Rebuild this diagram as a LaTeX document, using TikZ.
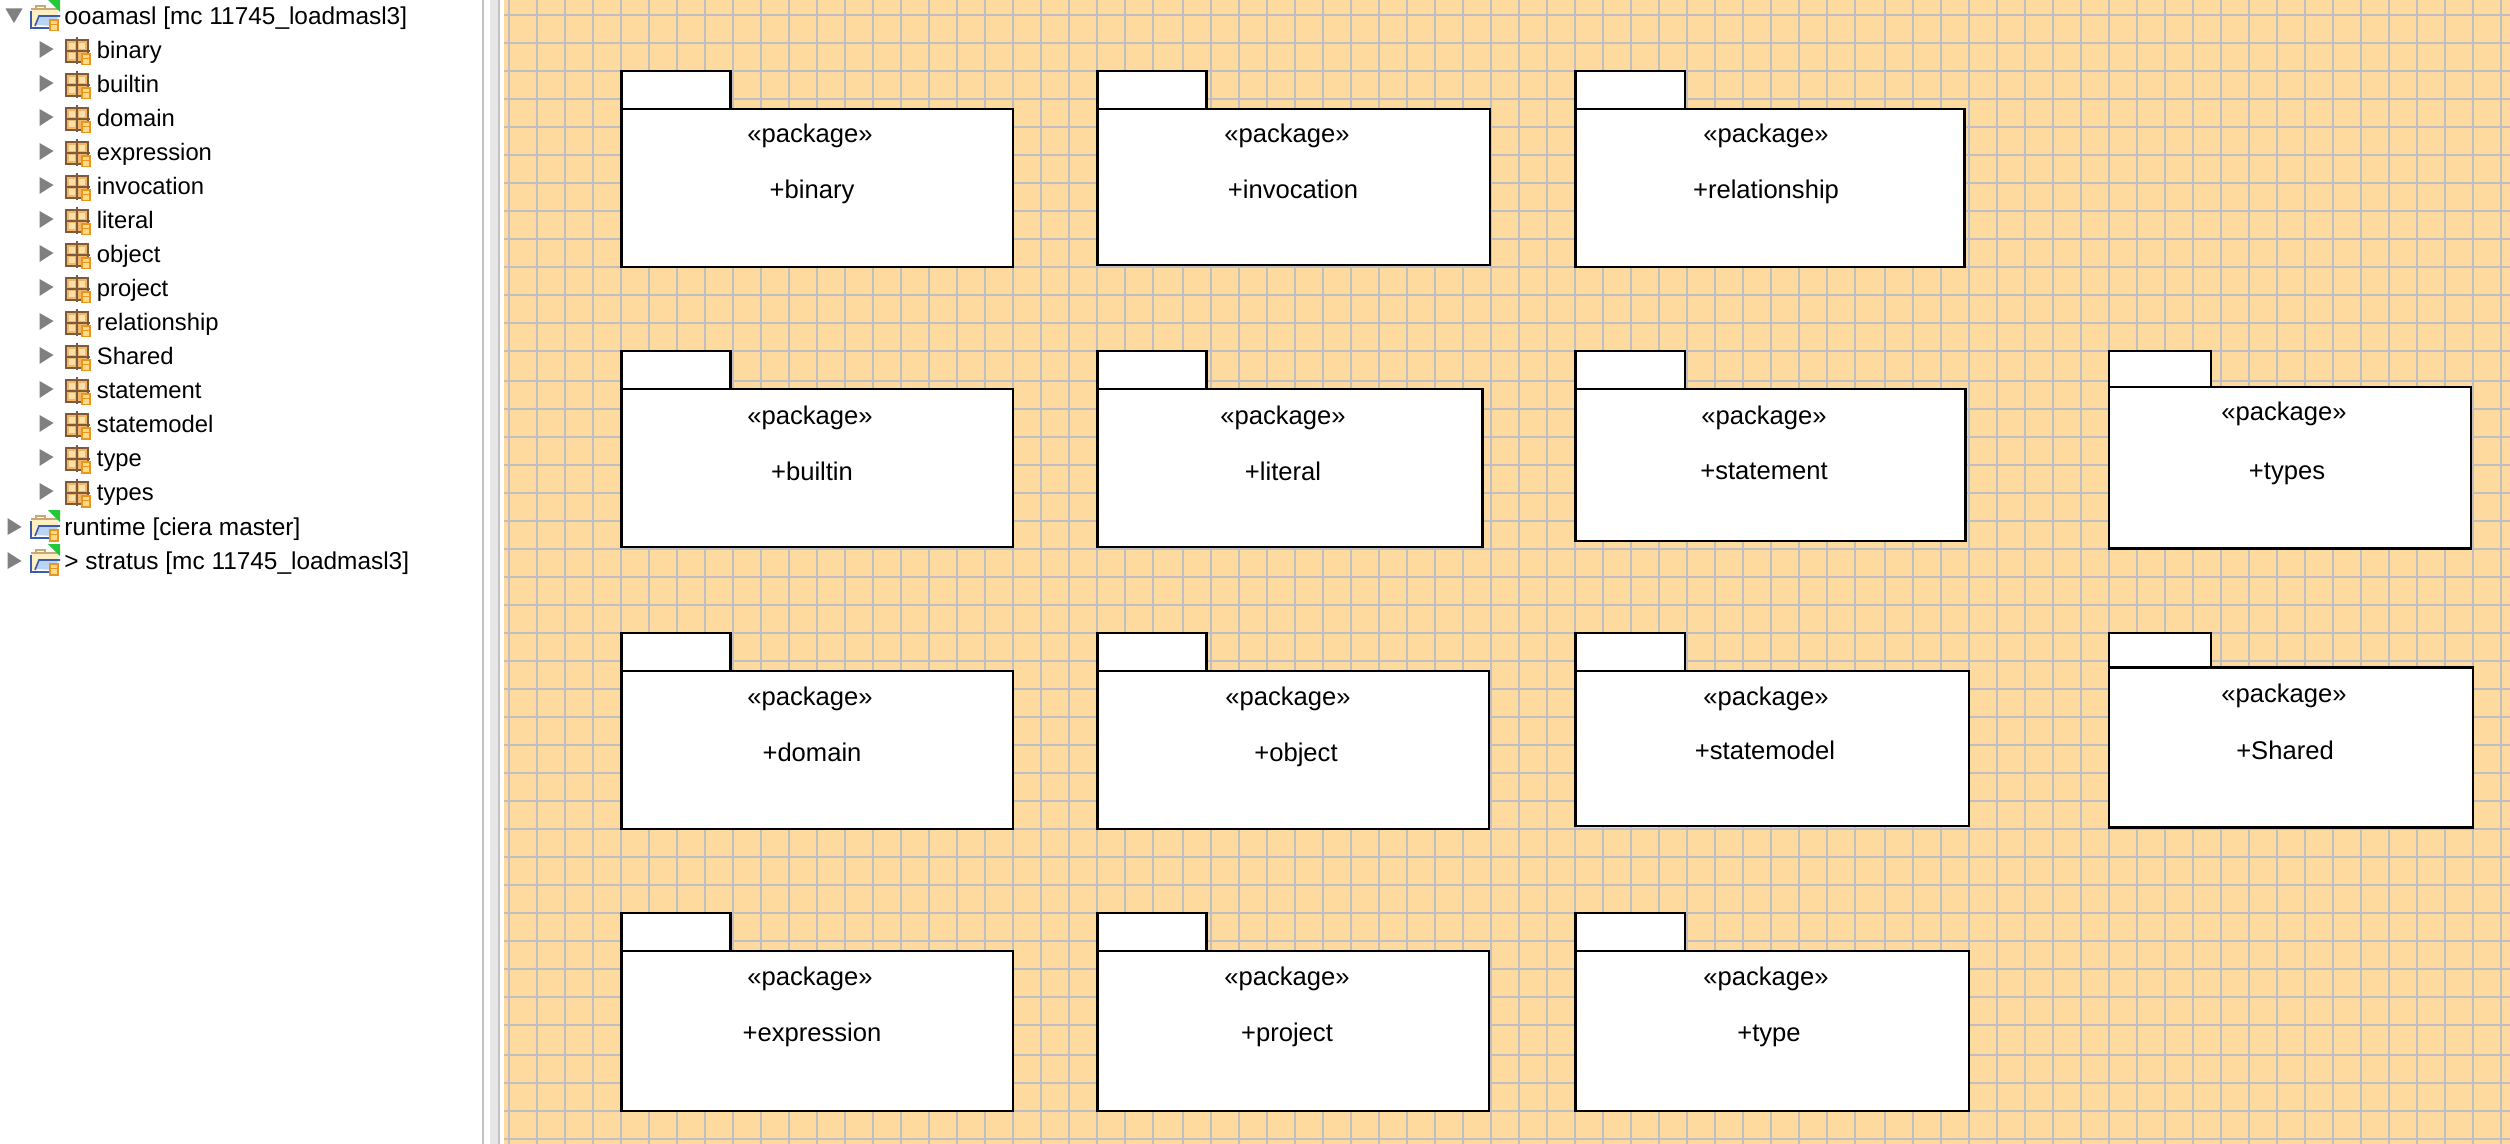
\documentclass[tikz,border=0pt]{standalone}
\usepackage{fontspec}
\setmainfont{Liberation Sans}
\definecolor{canvas}{HTML}{FEDA9F}
\definecolor{gridc}{HTML}{BFBFC2}
\definecolor{tri}{HTML}{808080}
\definecolor{sashl}{HTML}{E6E6E6}
\definecolor{sashd}{HTML}{C2C2C2}
\definecolor{pkbrown}{HTML}{7E5A3A}
\definecolor{pkfill}{HTML}{F2B766}
\definecolor{pklight}{HTML}{FFE0A8}
\definecolor{cyl}{HTML}{E8961E}
\definecolor{cyll}{HTML}{FFD98A}
\definecolor{foldb}{HTML}{3A5CB0}
\definecolor{foldl}{HTML}{BBD4F2}
\definecolor{foldt}{HTML}{FFF0C4}
\definecolor{foldh}{HTML}{C8A878}
\definecolor{greenc}{HTML}{22C83A}
\tikzset{
  x=0.5pt,y=-0.5pt,
  pkgbox/.style={draw=black,fill=white,line width=1.2pt,inner sep=0pt,outer sep=0pt,rectangle,anchor=north west},
  pkgtxt/.style={inner sep=0pt,font=\fontsize{12.8}{15}\selectfont,text=black,anchor=base,yshift=-0.4pt},
  treetxt/.style={inner sep=0pt,font=\fontsize{12.2}{14}\selectfont,text=black,anchor=base west,yshift=-0.4pt},
  kidtxt/.style={inner sep=0pt,font=\fontsize{11.9}{14}\selectfont,text=black,anchor=base west,yshift=-0.4pt},
  gridline/.style={draw=gridc,line width=1pt}
}
% #1 id, #2 left, #3 right, #4 tab top, #5 body top, #6 bottom, #7 tab right, #8 cx1, #9 baseline1
\newcommand{\pkgpart}[9]{%
  \pgfmathsetmacro{\tw}{(#7-#2)*0.5}\pgfmathsetmacro{\th}{(#5-#4)*0.5}%
  \pgfmathsetmacro{\bw}{(#3-#2)*0.5}\pgfmathsetmacro{\bh}{(#6-#5)*0.5}%
  \node[pkgbox,minimum width=\tw pt,minimum height=\th pt] (#1tab) at (#2,#4) {};
  \node[pkgbox,minimum width=\bw pt,minimum height=\bh pt] (#1) at (#2,#5) {};
  \node[pkgtxt] (#1st) at (#8,#9) {«package»};
}
\newcommand{\pkgname}[4]{\node[pkgtxt] (#1nm) at (#2,#3) {#4};}
\newcommand{\cylicon}[2]{% x left, y top; 9 wide, 13 tall
  \fill[cyl] (#1,#2+1) rectangle ++(9.5,12.5);
  \fill[cyll] (#1+2,#2+3) rectangle ++(5.5,9);
  \fill[cyl] (#1+2,#2+6) rectangle ++(5.5,1);
}
\newcommand{\pkicon}[1]{% #1 row centre y
  \fill[pkfill] (66,#1-10) rectangle (88,#1+12);
  \fill[pklight] (69,#1-7) rectangle (75,#1-1);
  \fill[pklight] (79,#1-7) rectangle (85,#1-1);
  \fill[pklight] (69,#1+3) rectangle (75,#1+9);
  \draw[pkbrown,line width=0.9pt] (66,#1-10) rectangle (88,#1+12);
  \draw[pkbrown,line width=0.8pt] (77,#1-13) -- (77,#1+14) (65,#1+1) -- (90,#1+1);
  \cylicon{81}{#1+2}
}
\newcommand{\foldicon}[1]{% #1 row centre y
  \draw[foldh,line width=0.7pt] (36,#1-8) -- (36,#1-11) -- (45,#1-11) -- (45,#1-8);
  \fill[foldt] (31,#1-8) rectangle (58,#1+8);
  \draw[foldh,line width=0.7pt] (31,#1-8) -- (58,#1-8);
  \fill[foldl] (35,#1+8) -- (39,#1+0) -- (58,#1+0) -- (54,#1+9) -- cycle;
  \draw[foldb,line width=1pt] (31,#1-6) -- (31,#1+11) -- (50,#1+11);
  \draw[foldb,line width=0.8pt] (35,#1+9) -- (39,#1-1) -- (60,#1-1);
  \fill[greenc] (48,#1-17) -- (60,#1-17) -- (60,#1-5) -- cycle;
  \cylicon{49}{#1+1}
}
\newcommand{\child}[3]{% id, y, text
  \fill[tri] (39.5,#2-9) -- (53.5,#2-1) -- (39.5,#2+8) -- cycle;
  \pkicon{#2}
  \node[kidtxt] (#1) at (96.5,#2+7.3) {#3};
}
\begin{document}
\begin{tikzpicture}
\useasboundingbox (0,0) rectangle (2510,1144);
\fill[white] (0,0) rectangle (2510,1144);
% sash
\fill[sashd] (482,0) rectangle (484,1144);
\fill[sashl] (490,0) rectangle (498,1144);
\fill[sashd] (498,0) rectangle (500,1144);
% canvas
\fill[canvas] (504,0) rectangle (2510,1144);
\foreach \k in {0,...,23} {\draw[gridline] ({509+28*\k},0) -- ({509+28*\k},1144);}
\foreach \k in {0,...,24} {\draw[gridline] ({1183+28*\k},0) -- ({1183+28*\k},1144);}
\foreach \k in {0,...,22} {\draw[gridline] ({1885+28*\k},0) -- ({1885+28*\k},1144);}
\foreach \k in {0,...,12} {\draw[gridline] (504,{15+28*\k}) -- (2510,{15+28*\k});}
\foreach \k in {0,...,23} {\draw[gridline] (504,{381+28*\k}) -- (2510,{381+28*\k});}
\foreach \k in {0,...,3} {\draw[gridline] (504,{1055+28*\k}) -- (2510,{1055+28*\k});}
% packages
\pkgpart{binary}{621.5}{1013}{71}{109}{267}{730.5}{810}{142}
\pkgname{binary}{812}{198}{+binary}
\pkgpart{invocation}{1097.5}{1490}{71}{109}{265}{1206.5}{1287}{142}
\pkgname{invocation}{1293}{198}{+invocation}
\pkgpart{relationship}{1575.5}{1964.5}{71}{109}{267}{1685}{1766}{142}
\pkgname{relationship}{1766}{198}{+relationship}
\pkgpart{builtin}{621.5}{1013}{351}{389}{547}{730.5}{810}{424}
\pkgname{builtin}{812}{480}{+builtin}
\pkgpart{literal}{1097.5}{1482.5}{351}{389}{547}{1206.5}{1283}{424}
\pkgname{literal}{1283}{480}{+literal}
\pkgpart{statement}{1575.5}{1965.5}{351}{389}{541}{1685}{1764}{424}
\pkgname{statement}{1764}{478.5}{+statement}
\pkgpart{types}{2109}{2471}{351}{387}{548.5}{2211}{2284}{419.5}
\pkgname{types}{2287}{479}{+types}
\pkgpart{domain}{621.5}{1013}{633}{671}{829}{730.5}{810}{705}
\pkgname{domain}{812}{761}{+domain}
\pkgpart{object}{1097.5}{1489}{633}{671}{829}{1206.5}{1288}{705}
\pkgname{object}{1296}{761}{+object}
\pkgpart{statemodel}{1575.5}{1969}{633}{671}{826}{1685}{1766}{705}
\pkgname{statemodel}{1765}{759}{+statemodel}
\pkgpart{Shared}{2109}{2473}{633}{667.5}{827.5}{2211}{2284}{702}
\pkgname{Shared}{2285}{758.5}{+Shared}
\pkgpart{expression}{621.5}{1013}{913}{951}{1111}{730.5}{810}{985}
\pkgname{expression}{812}{1041}{+expression}
\pkgpart{project}{1097.5}{1489}{913}{951}{1111}{1206.5}{1287}{985}
\pkgname{project}{1287}{1041}{+project}
\pkgpart{type}{1575.5}{1969}{913}{951}{1111}{1685}{1766}{985}
\pkgname{type}{1769}{1041}{+type}
% tree
\fill[tri] (5.5,8.5) -- (22.5,8.5) -- (14,23) -- cycle;
\foldicon{17}
\node[treetxt] (root) at (64,23.3) {ooamasl [mc 11745\_loadmasl3]};
\child{tbinary}{50}{binary}
\child{tbuiltin}{84}{builtin}
\child{tdomain}{118}{domain}
\child{texpression}{152}{expression}
\child{tinvocation}{186}{invocation}
\child{tliteral}{220}{literal}
\child{tobject}{254}{object}
\child{tproject}{288}{project}
\child{trelationship}{322}{relationship}
\child{tShared}{356}{Shared}
\child{tstatement}{390}{statement}
\child{tstatemodel}{424}{statemodel}
\child{ttype}{458}{type}
\child{ttypes}{492}{types}
\fill[tri] (7.5,518) -- (21.5,527) -- (7.5,535) -- cycle;
\foldicon{527}
\node[treetxt] (runtime) at (64,534.3) {runtime [ciera master]};
\fill[tri] (7.5,552) -- (21.5,561) -- (7.5,569) -- cycle;
\foldicon{561}
\node[treetxt] (stratus) at (64,568.3) {> stratus [mc 11745\_loadmasl3]};
\end{tikzpicture}
\end{document}
